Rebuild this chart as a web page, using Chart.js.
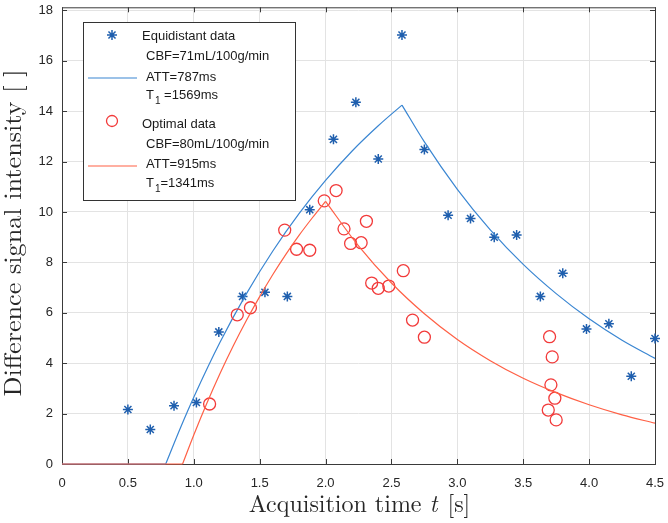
<!DOCTYPE html>
<html>
<head>
<meta charset="utf-8">
<script src="https://cdn.jsdelivr.net/npm/chart.js@4.4.1/dist/chart.umd.min.js"></script>
<style>
  body { margin: 0; background: #fff; }
  #wrap { width: 668px; height: 523px; }
</style>
</head>
<body>
<div id="wrap"><canvas id="my" width="668" height="523"></canvas></div>
<script>
const equiT = [0.50, 0.67, 0.85, 1.02, 1.19, 1.37, 1.54, 1.71, 1.88, 2.06, 2.23, 2.40,
               2.58, 2.75, 2.93, 3.10, 3.28, 3.45, 3.63, 3.80, 3.98, 4.15, 4.32, 4.50];
const equiSignal = [2.16, 1.37, 2.31, 2.44, 5.24, 6.65, 6.81, 6.65, 10.09, 12.88, 14.35, 12.10,
                    17.02, 12.48, 9.87, 9.74, 9.00, 9.09, 6.65, 7.57, 5.36, 5.56, 3.48, 4.98];

const optT = [1.12, 1.33, 1.43, 1.69, 1.78, 1.88, 1.99, 2.08, 2.14, 2.19, 2.27, 2.31,
              2.35, 2.40, 2.48, 2.59, 2.66, 2.75, 3.69, 3.70, 3.71, 3.72, 3.74, 3.75];
const optSignal = [2.38, 5.92, 6.20, 9.28, 8.52, 8.48, 10.44, 10.85, 9.33, 8.75, 8.78, 9.63,
                   7.18, 6.97, 7.06, 7.67, 5.71, 5.03, 2.14, 5.05, 3.14, 4.25, 2.61, 1.75];

// fitted curves
const equiATT = 0.787;
const equiRiseT = [0.787, 0.9, 1.0, 1.2, 1.4, 1.6, 1.8, 2.0, 2.2, 2.4, 2.58];
const equiRiseY = [0, 1.45, 2.65, 4.84, 6.76, 8.45, 9.94, 11.25, 12.41, 13.42, 14.24];
const equiDecayT = [2.58, 2.75, 3.0, 3.25, 3.5, 3.75, 4.0, 4.25, 4.5];
const equiDecayY = [14.24, 12.78, 10.9, 9.29, 7.92, 6.76, 5.76, 4.91, 4.19];

const optATT = 0.915;
const optRiseT = [0.915, 1.0, 1.1, 1.2, 1.3, 1.4, 1.5, 1.6, 1.7, 1.8, 1.9, 2.0];
const optRiseY = [0, 1.15, 2.42, 3.60, 4.69, 5.70, 6.64, 7.52, 8.33, 9.08, 9.77, 10.42];
const optDecayT = [2.0, 2.25, 2.5, 2.75, 3.0, 3.25, 3.5, 3.75, 4.0, 4.25, 4.5];
const optDecayY = [10.42, 8.65, 7.18, 5.96, 4.94, 4.10, 3.40, 2.83, 2.35, 1.95, 1.62];

const xTicks = [0, 0.5, 1, 1.5, 2, 2.5, 3, 3.5, 4, 4.5];
const yTicks = [0, 2, 4, 6, 8, 10, 12, 14, 16, 18];

const legendLines = [
  ['Equidistant data', 'CBF=71mL/100g/min', 'ATT=787ms', 'T|1| =1569ms'],
  ['Optimal data', 'CBF=80mL/100g/min', 'ATT=915ms', 'T|1|=1341ms']
];

const blueMark = '#1f5fae';
const blueLine = '#3a86d2';
const redMark = '#f23a3a';
const redLine = '#ff6045';
const sans = 'Helvetica, Arial, "Liberation Sans", sans-serif';
const serif = '"Latin Modern Roman", "CMU Serif", "Liberation Serif", serif';

function pts(xs, ys) {
  return xs.map((x, i) => ({ x: x, y: ys[i] }));
}

function lineSet(data, color) {
  return {
    type: 'line', data: data, borderColor: color, borderWidth: 1.2,
    pointRadius: 0, fill: false, cubicInterpolationMode: 'monotone', clip: false
  };
}

function drawStar(ctx, x, y, r) {
  ctx.beginPath();
  ctx.moveTo(x - r, y); ctx.lineTo(x + r, y);
  ctx.moveTo(x, y - r); ctx.lineTo(x, y + r);
  const d = r * Math.SQRT1_2;
  ctx.moveTo(x - d, y - d); ctx.lineTo(x + d, y + d);
  ctx.moveTo(x - d, y + d); ctx.lineTo(x + d, y - d);
  ctx.stroke();
}

// text with a "|1|" subscript part
function drawSubText(ctx, str, x, y) {
  const parts = str.split('|');
  let cx = x;
  parts.forEach((p, i) => {
    if (i % 2 === 1) {
      ctx.font = '10px ' + sans;
      ctx.fillText(p, cx + 1, y + 5);
      cx += ctx.measureText(p).width + 1;
    } else {
      ctx.font = '13px ' + sans;
      ctx.fillText(p, cx, y);
      cx += ctx.measureText(p).width;
    }
  });
}

const framePlugin = {
  id: 'frame',
  beforeDatasetsDraw(chart) {
    const { ctx, chartArea: a, scales } = chart;
    ctx.save();
    ctx.strokeStyle = '#3a3a3a';
    ctx.lineWidth = 1;
    ctx.strokeRect(a.left + 0.5, a.top + 0.5, a.right - a.left, a.bottom - a.top);
    ctx.beginPath();
    xTicks.forEach(v => {
      const px = Math.round(scales.x.getPixelForValue(v)) + 0.5;
      ctx.moveTo(px, a.bottom); ctx.lineTo(px, a.bottom - 5);
      ctx.moveTo(px, a.top); ctx.lineTo(px, a.top + 5);
    });
    yTicks.forEach(v => {
      const py = Math.round(scales.y.getPixelForValue(v)) + 0.5;
      ctx.moveTo(a.left, py); ctx.lineTo(a.left + 5, py);
      ctx.moveTo(a.right, py); ctx.lineTo(a.right - 5, py);
    });
    ctx.stroke();
    ctx.restore();
  },
  afterDraw(chart) {
    const { ctx, chartArea: a } = chart;
    ctx.save();
    ctx.fillStyle = '#262626';
    ctx.textBaseline = 'alphabetic';

    // x axis title with italic t
    const fs = '24px ';
    const p1 = 'Acquisition time ', p2 = 't', p3 = ' [s]';
    ctx.font = fs + serif;
    const w1 = ctx.measureText(p1).width, w3 = ctx.measureText(p3).width;
    ctx.font = 'italic ' + fs + serif;
    const w2 = ctx.measureText(p2).width;
    let sx = (a.left + a.right) / 2 - (w1 + w2 + w3) / 2;
    ctx.font = fs + serif;
    ctx.fillText(p1, sx, 512);
    ctx.font = 'italic ' + fs + serif;
    ctx.fillText(p2, sx + w1, 512);
    ctx.font = fs + serif;
    ctx.fillText(p3, sx + w1 + w2 + 2, 512);

    // y axis title (stretched a little, the original font runs wider)
    ctx.save();
    ctx.translate(21, 233);
    ctx.rotate(-Math.PI / 2);
    ctx.scale(1.09, 1);
    ctx.textAlign = 'center';
    ctx.font = fs + serif;
    ctx.fillText('Difference signal intensity [ ]', 0, 0);
    ctx.restore();

    // legend
    ctx.fillStyle = '#fff';
    ctx.fillRect(83, 22, 213, 179);
    ctx.strokeStyle = '#333';
    ctx.lineWidth = 1;
    ctx.strokeRect(83.5, 22.5, 212, 178);

    ctx.strokeStyle = blueMark;
    ctx.lineWidth = 1.5;
    drawStar(ctx, 112, 35, 5);
    ctx.strokeStyle = blueLine;
    ctx.lineWidth = 1.2;
    ctx.beginPath(); ctx.moveTo(88, 78); ctx.lineTo(137, 78); ctx.stroke();

    ctx.strokeStyle = redMark;
    ctx.lineWidth = 1.3;
    ctx.beginPath(); ctx.arc(112, 121, 5.5, 0, Math.PI * 2); ctx.stroke();
    ctx.strokeStyle = redLine;
    ctx.lineWidth = 1.2;
    ctx.beginPath(); ctx.moveTo(88, 166); ctx.lineTo(137, 166); ctx.stroke();

    ctx.fillStyle = '#1a1a1a';
    const rows = [[40, 60, 81, 99], [128, 148, 168, 187]];
    legendLines.forEach((grp, g) => {
      grp.forEach((txt, i) => {
        drawSubText(ctx, txt, i === 0 ? 142 : 146, rows[g][i]);
      });
    });
    ctx.restore();
  }
};

const ctxChart = document.getElementById('my').getContext('2d');

new Chart(ctxChart, {
  type: 'scatter',
  data: {
    datasets: [
      lineSet([{ x: 0, y: 0 }, { x: optATT, y: 0 }], redLine),
      lineSet(pts(optRiseT, optRiseY), redLine),
      lineSet(pts(optDecayT, optDecayY), redLine),
      {
        label: 'Optimal data', data: pts(optT, optSignal),
        pointStyle: 'circle', pointRadius: 6, borderColor: redMark,
        backgroundColor: 'rgba(0,0,0,0)', borderWidth: 1.3, clip: false
      },
      lineSet([{ x: 0, y: 0 }, { x: equiATT, y: 0 }], blueLine),
      lineSet(pts(equiRiseT, equiRiseY), blueLine),
      lineSet(pts(equiDecayT, equiDecayY), blueLine),
      {
        label: 'Equidistant data', data: pts(equiT, equiSignal),
        pointStyle: 'star', pointRadius: 5, borderColor: blueMark,
        backgroundColor: blueMark, borderWidth: 1.5, clip: false
      }
    ]
  },
  options: {
    responsive: false,
    animation: false,
    events: [],
    layout: { padding: { top: 5, right: 13, left: 0, bottom: 0 } },
    plugins: { legend: { display: false }, tooltip: { enabled: false } },
    scales: {
      x: {
        type: 'linear', min: 0, max: 4.5,
        afterFit(scale) { scale.height = 59; scale.paddingLeft = 0; scale.paddingRight = 0; },
        afterBuildTicks(scale) { scale.ticks = xTicks.map(v => ({ value: v })); },
        grid: { color: '#e3e3e3', drawTicks: false },
        border: { display: false },
        ticks: { padding: 12, color: '#262626', font: { size: 13, family: sans } }
      },
      y: {
        type: 'linear', min: 0, max: 18.12,
        afterFit(scale) { scale.width = 62; scale.paddingTop = 0; scale.paddingBottom = 0; },
        afterBuildTicks(scale) { scale.ticks = yTicks.map(v => ({ value: v })); },
        grid: { color: '#e3e3e3', drawTicks: false },
        border: { display: false },
        ticks: { padding: 9, color: '#262626', font: { size: 13, family: sans } }
      }
    }
  },
  plugins: [framePlugin]
});
</script>
</body>
</html>
